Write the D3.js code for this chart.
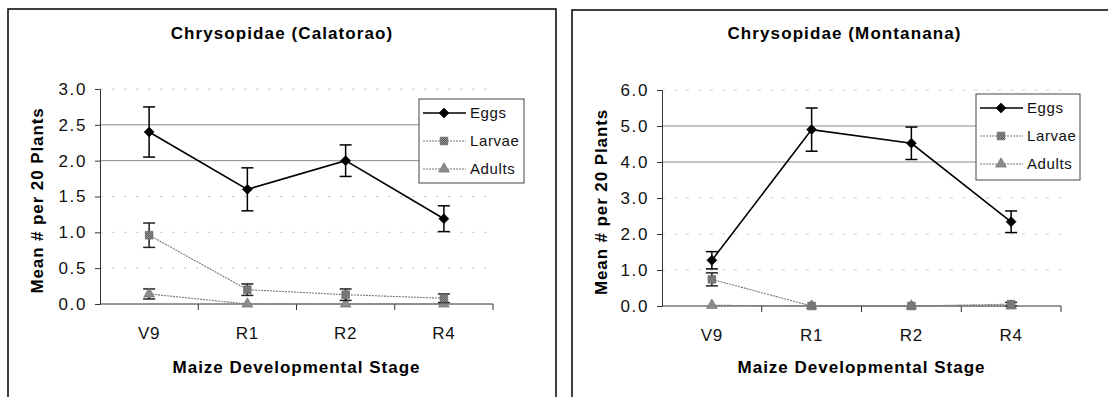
<!DOCTYPE html>
<html>
<head>
<meta charset="utf-8">
<script src="https://cdn.jsdelivr.net/npm/d3@7"></script>
<style>
  body { margin: 0; background: #fff; }
  svg { display: block; font-family: "Liberation Sans", Arial, sans-serif; }
</style>
</head>
<body>
<div id="chart"></div>
<script>
// data
var stages = ["V9", "R1", "R2", "R4"];
var seriesNames = ["Eggs", "Larvae", "Adults"];

// Calatorao
var calEggs = [2.40, 1.60, 2.00, 1.19];
var calEggsErr = [0.35, 0.30, 0.22, 0.18];
var calLarvae = [0.96, 0.20, 0.13, 0.08];
var calLarvaeErr = [0.17, 0.08, 0.08, 0.06];
var calAdults = [0.14, 0.00, 0.00, 0.00];
var calAdultsErr = [0.07, 0, 0, 0];

// Montanana
var monEggs = [1.27, 4.90, 4.52, 2.34];
var monEggsErr = [0.24, 0.60, 0.45, 0.30];
var monLarvae = [0.74, 0.00, 0.00, 0.05];
var monLarvaeErr = [0.18, 0, 0, 0.05];
var monAdults = [0.02, 0.00, 0.00, 0.00];
var monAdultsErr = [0, 0, 0, 0];

var W = 1108, H = 397;
var svg = d3.select("#chart").append("svg").attr("width", W).attr("height", H);

// hatched fill for the larvae squares
var defs = svg.append("defs");
var pat = defs.append("pattern").attr("id", "hatch")
  .attr("width", 2).attr("height", 2).attr("patternUnits", "userSpaceOnUse");
pat.append("rect").attr("width", 2).attr("height", 2).attr("fill", "#9a9a9a");
pat.append("rect").attr("width", 1).attr("height", 1).attr("fill", "#555");
pat.append("rect").attr("x", 1).attr("y", 1).attr("width", 1).attr("height", 1).attr("fill", "#555");

var styles = {
  Eggs:   { stroke: "#000", width: 1.6, dash: null, marker: d3.symbolSquare, rot: 45, size: 50, fill: "#000", err: "#000" },
  Larvae: { stroke: "#777", width: 1.1, dash: "2,1", marker: d3.symbolSquare, rot: 0, size: 60, fill: "url(#hatch)", err: "#222" },
  Adults: { stroke: "#777", width: 1.1, dash: "2,1", marker: d3.symbolTriangle, rot: 0, size: 50, fill: "#8c8c8c", err: "#222" }
};

function DrawPanel(p) {
  var g = svg.append("g");

  // outer frame
  g.append("rect")
    .attr("x", p.box.x).attr("y", p.box.y)
    .attr("width", p.box.w).attr("height", p.box.h)
    .attr("fill", "none").attr("stroke", "#000").attr("stroke-width", 1.5);

  var x = d3.scaleBand().domain(stages).range([p.left, p.right]);
  var y = d3.scaleLinear().domain([0, p.ymax]).range([p.bottom, p.top]);
  var ticks = d3.range(0, p.ymax + p.step / 2, p.step);

  // gridlines (the scan keeps only the two upper ones solid)
  var strong = function(d){ return d < p.ymax && d >= p.ymax * 2 / 3; };
  g.selectAll(".grid").data(ticks.filter(function(t){ return t > 0; }))
    .enter().append("line")
    .attr("x1", p.left).attr("x2", p.right)
    .attr("y1", function(d){ return y(d); }).attr("y2", function(d){ return y(d); })
    .attr("stroke", function(d){ return strong(d) ? "#8a8a8a" : "#d0d0d0"; })
    .attr("stroke-width", 1)
    .attr("stroke-dasharray", function(d){ return strong(d) ? null : "3,9"; });

  // y axis
  var yAxis = g.append("g").attr("transform", "translate(" + p.left + ",0)")
    .call(d3.axisLeft(y).tickValues(ticks).tickFormat(d3.format(".1f")).tickSize(5).tickPadding(8));
  yAxis.select(".domain").attr("stroke", "#333");
  yAxis.selectAll(".tick line").attr("stroke", "#333");
  yAxis.selectAll("text").attr("font-size", 17).attr("fill", "#111")
    .attr("letter-spacing", 1.6)
    .attr("font-family", "Liberation Sans, Arial, sans-serif");

  // x axis: ticks sit between the categories
  var xAxis = g.append("g").attr("transform", "translate(0," + p.bottom + ")");
  xAxis.append("line").attr("x1", p.left).attr("x2", p.right)
    .attr("stroke", "#333").attr("stroke-width", 1);
  var bounds = stages.map(function(s){ return x(s) + x.bandwidth(); });
  xAxis.selectAll(".xt").data(bounds).enter().append("line")
    .attr("x1", function(d){ return d; }).attr("x2", function(d){ return d; })
    .attr("y1", 0).attr("y2", 6).attr("stroke", "#333");
  xAxis.selectAll(".xl").data(stages).enter().append("text")
    .attr("x", function(d){ return x(d) + x.bandwidth() / 2; })
    .attr("y", 35)
    .attr("text-anchor", "middle").attr("font-size", 17).attr("fill", "#111")
    .attr("letter-spacing", 0.8)
    .text(function(d){ return d; });

  // titles
  g.append("text").attr("x", p.box.x + p.box.w / 2).attr("y", 39)
    .attr("text-anchor", "middle").attr("font-size", 17).attr("font-weight", "bold")
    .attr("letter-spacing", 1.1)
    .text(p.title);
  g.append("text").attr("x", (p.left + p.right) / 2).attr("y", 373)
    .attr("text-anchor", "middle").attr("font-size", 17).attr("font-weight", "bold")
    .attr("letter-spacing", 1)
    .text("Maize Developmental Stage");
  g.append("text")
    .attr("transform", "translate(" + (p.box.x + 35) + "," + ((p.top + p.bottom) / 2 + 4) + ") rotate(-90)")
    .attr("text-anchor", "middle").attr("font-size", 17).attr("font-weight", "bold")
    .attr("letter-spacing", 0.9)
    .text("Mean # per 20 Plants");

  // series, drawn back to front
  var cx = function(i){ return x(stages[i]) + x.bandwidth() / 2; };
  p.series.slice().reverse().forEach(function(s) {
    var st = styles[s.name];
    var line = d3.line().x(function(d, i){ return cx(i); }).y(function(d){ return y(d); });
    g.append("path").datum(s.values).attr("d", line)
      .attr("fill", "none").attr("stroke", st.stroke)
      .attr("stroke-width", st.width).attr("stroke-dasharray", st.dash);

    s.values.forEach(function(v, i) {
      var e = s.err[i];
      if (e > 0) {
        var eg = g.append("g").attr("stroke", st.err).attr("stroke-width", 1.5);
        eg.append("line").attr("x1", cx(i)).attr("x2", cx(i))
          .attr("y1", y(v - e)).attr("y2", y(v + e));
        [v - e, v + e].forEach(function(c) {
          eg.append("line").attr("x1", cx(i) - 6).attr("x2", cx(i) + 6)
            .attr("y1", y(c)).attr("y2", y(c));
        });
      }
    });

    g.selectAll(null).data(s.values).enter().append("path")
      .attr("d", d3.symbol().type(st.marker).size(st.size))
      .attr("transform", function(d, i){ return "translate(" + cx(i) + "," + y(d) + ") rotate(" + st.rot + ")"; })
      .attr("fill", st.fill).attr("stroke", s.name === "Eggs" ? "#000" : "#666")
      .attr("stroke-width", 0.6);
  });

  // legend
  var lg = g.append("g").attr("transform", "translate(" + p.legend.x + "," + p.legend.y + ")");
  lg.append("rect").attr("width", p.legend.w).attr("height", p.legend.h)
    .attr("fill", "#fff").attr("stroke", "#444").attr("stroke-width", 1);
  seriesNames.forEach(function(name, i) {
    var st = styles[name];
    var ry = 14 + i * 28;
    lg.append("line").attr("x1", 4).attr("x2", 47).attr("y1", ry).attr("y2", ry)
      .attr("stroke", st.stroke).attr("stroke-width", st.width).attr("stroke-dasharray", st.dash);
    lg.append("path").attr("d", d3.symbol().type(st.marker).size(st.size))
      .attr("transform", "translate(25," + ry + ") rotate(" + st.rot + ")")
      .attr("fill", st.fill).attr("stroke", name === "Eggs" ? "#000" : "#666").attr("stroke-width", 0.6);
    lg.append("text").attr("x", 51).attr("y", ry + 5)
      .attr("font-size", 15).attr("letter-spacing", 0.6).attr("fill", "#111").text(name);
  });
}

DrawPanel({
  title: "Chrysopidae (Calatorao)",
  box: { x: 8, y: 9, w: 548, h: 400 },
  left: 100, right: 493, top: 89, bottom: 304,
  ymax: 3, step: 0.5,
  legend: { x: 419, y: 99, w: 105, h: 84 },
  series: [
    { name: "Eggs", values: calEggs, err: calEggsErr },
    { name: "Larvae", values: calLarvae, err: calLarvaeErr },
    { name: "Adults", values: calAdults, err: calAdultsErr }
  ]
});

DrawPanel({
  title: "Chrysopidae (Montanana)",
  box: { x: 572, y: 10, w: 545, h: 400 },
  left: 662, right: 1061, top: 90, bottom: 306,
  ymax: 6, step: 1,
  legend: { x: 976, y: 94, w: 104, h: 86 },
  series: [
    { name: "Eggs", values: monEggs, err: monEggsErr },
    { name: "Larvae", values: monLarvae, err: monLarvaeErr },
    { name: "Adults", values: monAdults, err: monAdultsErr }
  ]
});
</script>
</body>
</html>
